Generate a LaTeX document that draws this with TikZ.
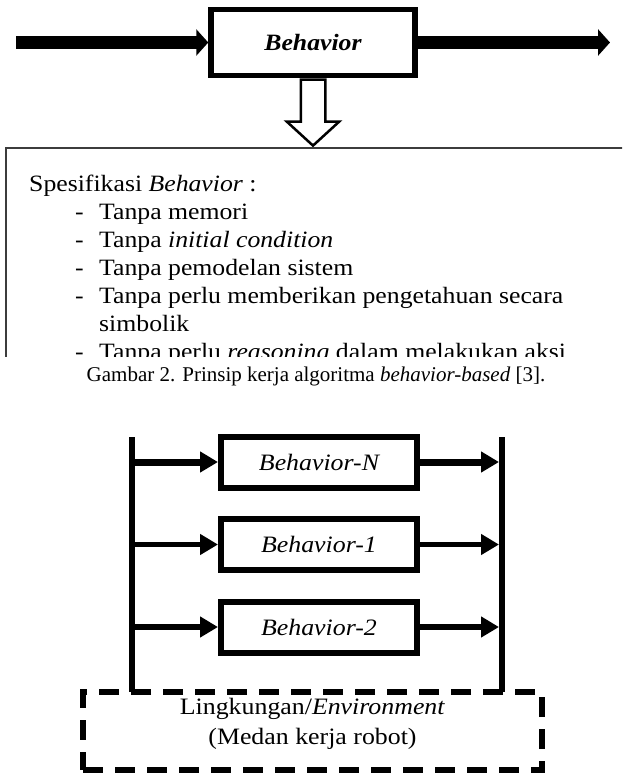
\documentclass[tikz,border=0pt]{standalone}
\usepackage{fontspec}
\usepackage{tikz}
\usetikzlibrary{shapes,arrows,arrows.meta,positioning}
\setmainfont{Liberation Serif}
\newfontfamily\boxfont[FakeStretch=1.1]{Liberation Serif}
\definecolor{linecolor}{RGB}{0, 0, 0}
\definecolor{framecolor}{RGB}{60, 60, 60}
\newcommand{\specitem}[1]{\hspace*{46pt}\makebox[24pt][l]{-}#1}

\begin{document}
\begin{tikzpicture}[x=1pt, y=-1pt, node distance=82.5pt, auto]
    % Define styles
    \tikzstyle{mainbox} = [rectangle, draw=linecolor, line width=5.5pt, minimum width=204pt, minimum height=66pt, inner sep=0pt, font=\boxfont\fontsize{23.4}{28}\selectfont\bfseries\itshape]
    \tikzstyle{behbox} = [rectangle, draw=linecolor, line width=6pt, minimum width=196pt, minimum height=51pt, inner sep=0pt, font=\boxfont\fontsize{23.5}{28}\selectfont\itshape]
    \tikzstyle{hollow} = [single arrow, draw=linecolor, line width=2.5pt, fill=white, minimum height=66pt, inner xsep=0pt, inner ysep=11pt, single arrow head extend=14pt, single arrow tip angle=95, rotate=-90]
    \tikzstyle{specbox} = [rectangle, draw=framecolor, line width=1.6pt, minimum width=700pt, minimum height=300pt]
    \tikzstyle{spectext} = [align=left, inner sep=0pt, font=\boxfont\fontsize{23.4}{28}\selectfont]
    \tikzstyle{caption} = [inner sep=0pt, font=\fontsize{21}{25}\selectfont]
    \tikzstyle{envbox} = [rectangle, draw=linecolor, line width=6pt, dash pattern=on 20pt off 12pt, minimum width=459pt, minimum height=78pt]
    \tikzstyle{envtext} = [align=center, inner sep=0pt, font=\boxfont\fontsize{23.5}{30}\selectfont]
    \tikzstyle{bigarrow} = [line width=13pt, -{Triangle[length=12pt, width=26pt]}]
    \tikzstyle{arrow} = [line width=6pt, -{Triangle[length=18pt, width=20pt]}]
    \tikzstyle{bus} = [line width=6pt]

    \path[fill=white] (0,0) rectangle (622,780);
    \useasboundingbox (0,0) rectangle (622,780);

    % Single behavior (top)
    \node [hollow] (down) at (313,107) {};
    \node [mainbox] (behavior) at (313,42.5) {Behavior};
    \coordinate (in) at (16,42.5);
    \coordinate (out) at (610,42.5);
    \draw [bigarrow] (in) -- (behavior);
    \draw [bigarrow] (behavior) -- (out);

    % Specification box, cut off at the bottom
    \begin{scope}
        \clip (0,140) rectangle (622,356);
        \node [specbox, anchor=north west] (spec) at (5,147) {};
        \node [spectext, anchor=north west] (spectext) at (29,175) {Spesifikasi \textit{Behavior} :\\
            \specitem{Tanpa memori}\\
            \specitem{Tanpa \textit{initial condition}}\\
            \specitem{Tanpa pemodelan sistem}\\
            \specitem{Tanpa perlu memberikan pengetahuan secara}\\
            \hspace*{70pt}simbolik\\
            \specitem{Tanpa perlu \textit{reasoning} dalam melakukan aksi}};
    \end{scope}
    \node [caption, anchor=base] (caption) at (316,381) {Gambar 2. Prinsip kerja algoritma \textit{behavior-based} [3].};

    % Parallel behaviors (bottom)
    \node [behbox] (behN) at (319,462) {Behavior-N};
    \node [behbox, below of=behN] (beh1) {Behavior-1};
    \node [behbox, below of=beh1] (beh2) {Behavior-2};

    % Environment
    \node [envbox] (env) at (312.5,731) {};
    \node [envtext] (envlabel) at ([yshift=7pt]env.center) {Lingkungan/\textit{Environment}\\(Medan kerja robot)};

    % Input and output bars
    \coordinate (ltop) at (132,437);
    \coordinate (lbot) at (132,692);
    \coordinate (rtop) at (502,437);
    \coordinate (rbot) at (502,692);
    \draw [bus] (ltop) -- (lbot);
    \draw [bus] (rtop) -- (rbot);

    % Arrows into and out of each behavior
    \draw [arrow, line width=7pt] (ltop |- behN) -- (behN);
    \draw [arrow, line width=7pt, shorten >=3pt] (behN) -- (rtop |- behN);
    \draw [arrow, line width=5pt] (ltop |- beh1) -- (beh1);
    \draw [arrow, line width=5pt, shorten >=3pt] (beh1) -- (rtop |- beh1);
    \draw [arrow] (ltop |- beh2) -- (beh2);
    \draw [arrow, shorten >=3pt] (beh2) -- (rtop |- beh2);
\end{tikzpicture}
\end{document}
